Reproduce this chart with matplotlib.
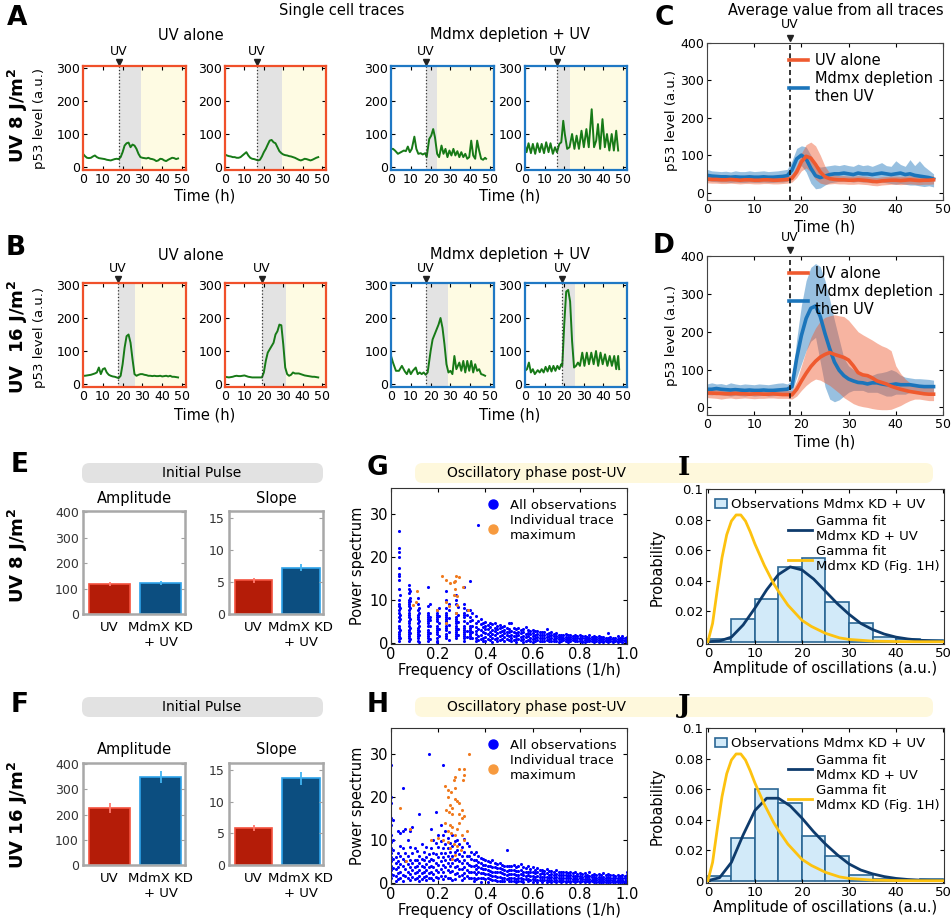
import numpy as np
import matplotlib.pyplot as plt
from matplotlib.patches import FancyBboxPatch, Patch
from matplotlib.lines import Line2D

plt.rcParams['font.family'] = 'DejaVu Sans'

# ---------------- data ----------------
# single cell traces: hourly p53 level (0..48 h) or (time, value) turning points
hours = list(range(49))
trace_a1 = [40, 33, 28, 27, 28, 32, 35, 30, 27, 26, 25, 24, 22, 21, 20, 22, 24, 25, 24, 30,
            45, 65, 72, 74, 60, 68, 65, 55, 40, 30, 28, 27, 26, 28, 25, 24, 22, 18, 20, 25,
            24, 20, 18, 22, 25, 28, 27, 24, 26]
trace_a2 = [38, 35, 33, 32, 30, 30, 28, 28, 30, 35, 40, 45, 35, 28, 25, 24, 22, 20, 22, 32,
            45, 55, 68, 80, 82, 75, 72, 60, 48, 42, 38, 36, 35, 33, 32, 30, 28, 25, 22, 20,
            22, 25, 24, 22, 20, 22, 25, 28, 30]
trace_a3_t = [0, 1, 2, 3.5, 5, 6.5, 7.5, 8.5, 9.5, 10.5, 11.8, 12.8, 13.8, 15, 16, 17.3, 18, 19.3,
              20.3, 21.3, 22.2, 23.3, 24.3, 25.5, 26.5, 27.5, 28.5, 29.5, 30.5, 31.5, 32.5, 33.5,
              34.5, 35.5, 36.5, 37.5, 38.5, 39.5, 40.5, 41.5, 42.5, 43.5, 44.5, 45.5, 46.5, 47.5, 48]
trace_a3 = [55, 55, 50, 40, 45, 50, 48, 62, 45, 55, 92, 55, 40, 42, 38, 42, 30, 85,
            95, 115, 90, 40, 30, 65, 40, 55, 30, 50, 35, 55, 35, 48,
            30, 45, 30, 40, 25, 30, 80, 35, 25, 80, 50, 25, 22, 28, 25]
trace_a4_t = [0, 0.8, 1.8, 3, 4, 5.2, 6.3, 7.5, 8.5, 9.7, 10.8, 12, 13, 14.2, 15.3, 16.3, 17.5,
              18.5, 19.5, 20.3, 21.5, 22.7, 24, 25.2, 26.3, 27.5, 28.8, 30, 31.3, 32.5, 34, 35.2,
              36.3, 37.2, 38.3, 39.5, 40.7, 41.8, 43, 44.2, 45.3, 46.5, 47.5]
trace_a4 = [65, 45, 72, 42, 70, 40, 72, 45, 70, 42, 75, 45, 72, 40, 60, 45, 70,
            75, 140, 100, 55, 60, 100, 55, 95, 55, 110, 60, 115, 60, 175, 60,
            80, 130, 55, 145, 60, 100, 50, 100, 50, 110, 50]
trace_b1 = [25, 25, 26, 27, 28, 30, 32, 35, 50, 30, 45, 48, 35, 28, 25, 23, 22, 20, 18, 25,
            60, 110, 145, 150, 125, 75, 30, 25, 28, 30, 30, 28, 27, 25, 25, 24, 25, 24, 24, 25,
            23, 24, 25, 23, 25, 22, 22, 21, 20]
trace_b2 = [22, 21, 20, 21, 22, 24, 25, 24, 24, 25, 26, 24, 22, 21, 20, 20, 20, 20, 20, 20,
            35, 70, 95, 105, 115, 125, 150, 160, 180, 178, 120, 50, 30, 25, 28, 35, 32, 32, 32, 30,
            28, 26, 25, 24, 23, 22, 22, 21, 20]
trace_b3_t = [0, 1, 2.5, 4, 5.5, 7, 8, 9, 10, 11, 12.5, 13.5, 14.5, 15.5, 16.5, 17.5, 18.5, 20,
              21, 22, 23, 24, 25, 26, 27, 28, 29, 30, 31, 32, 33, 34.5, 35.5, 36.5, 37.5, 38.5,
              39.5, 40.5, 41.5, 42.5, 43.5, 44.5, 45.5, 46.5, 47.5]
trace_b3 = [85, 65, 40, 40, 55, 38, 30, 45, 30, 40, 50, 30, 35, 30, 35, 28, 35, 100,
            135, 150, 165, 180, 200, 170, 120, 60, 35, 40, 30, 85, 45, 65, 40, 70, 35, 70,
            40, 70, 35, 60, 40, 45, 30, 28, 25]
trace_b4_t = [0, 1, 2, 3, 4, 5, 6.5, 7.5, 8.5, 9.5, 10.5, 11.5, 12.5, 13.5, 14.5, 15.5, 16.5,
              17.5, 18.5, 19, 20, 21, 22, 23, 24, 25, 26, 27, 28, 29.2, 30.3, 31.5, 32.6, 33.8,
              35, 36.2, 37.3, 38.5, 39.6, 40.8, 42, 43.2, 44.3, 45.5, 46.5, 47.5, 48]
trace_b4 = [40, 45, 65, 35, 45, 30, 42, 35, 45, 35, 52, 38, 55, 38, 55, 40, 55,
            45, 60, 55, 180, 280, 285, 250, 130, 50, 55, 65, 55, 95, 55, 95, 60, 95,
            60, 100, 55, 95, 60, 90, 55, 85, 55, 85, 45, 85, 45]
trace_uv = [18, 16.5, 17.5, 16.5, 17.5, 19, 17.5, 19]
trace_pulse_end = [29.3, 29.2, 23.4, 22.9, 26.1, 31.5, 28.8, 25.7]

# average traces (0..48 h)
c_uv_mean = [36, 35, 35, 34, 34, 35, 34, 33, 34, 34, 33, 33, 34, 34, 33, 33, 34, 35, 38, 55,
             82, 97, 92, 75, 55, 42, 37, 35, 34, 34, 33, 33, 34, 33, 32, 30, 29, 31, 32, 33,
             33, 32, 33, 34, 33, 32, 33, 33, 34]
c_uv_hi = [46, 45, 46, 44, 44, 45, 44, 43, 44, 45, 43, 44, 44, 45, 43, 44, 44, 45, 48, 70,
           105, 128, 135, 125, 100, 70, 52, 47, 45, 45, 44, 44, 45, 44, 43, 41, 40, 42, 43, 44,
           44, 43, 44, 45, 44, 43, 44, 44, 45]
c_uv_lo = [26, 25, 25, 24, 24, 25, 24, 23, 24, 24, 23, 23, 24, 24, 23, 23, 24, 25, 28, 40,
           58, 66, 55, 35, 25, 22, 23, 24, 23, 23, 22, 22, 23, 22, 21, 19, 18, 20, 21, 22,
           22, 21, 22, 23, 22, 21, 22, 22, 23]
c_kd_mean = [46, 44, 43, 42, 42, 41, 42, 41, 41, 42, 41, 41, 42, 41, 41, 42, 43, 45, 60, 90,
             100, 90, 65, 45, 40, 44, 48, 50, 50, 52, 50, 48, 52, 50, 50, 48, 50, 52, 50, 48,
             50, 52, 48, 50, 46, 44, 42, 40, 36]
c_kd_hi = [62, 58, 57, 56, 57, 55, 58, 56, 56, 58, 56, 57, 58, 56, 57, 58, 60, 62, 85, 118,
           125, 122, 100, 75, 68, 70, 72, 74, 72, 75, 72, 70, 76, 72, 74, 70, 75, 80, 72, 70,
           85, 75, 70, 88, 72, 85, 70, 60, 50]
c_kd_lo = [32, 30, 29, 28, 28, 27, 28, 27, 27, 28, 27, 27, 28, 27, 27, 28, 28, 30, 40, 62,
           72, 55, 25, 10, 12, 20, 26, 28, 30, 30, 30, 28, 30, 28, 28, 26, 28, 28, 26, 24,
           22, 24, 22, 20, 20, 18, 16, 18, 15]
d_uv_mean = [38, 38, 37, 37, 36, 36, 37, 36, 36, 35, 36, 36, 35, 35, 36, 35, 34, 34, 33, 48,
             70, 90, 108, 122, 133, 140, 145, 140, 136, 132, 125, 110, 92, 86, 84, 78, 70, 66, 62, 56,
             52, 48, 45, 42, 40, 38, 36, 35, 35]
d_uv_hi = [48, 50, 50, 49, 48, 50, 52, 50, 49, 48, 50, 49, 48, 48, 47, 46, 45, 45, 44, 70,
           110, 150, 185, 210, 228, 238, 242, 245, 242, 240, 230, 215, 200, 192, 185, 178, 170, 163, 158, 150,
           110, 90, 75, 65, 60, 56, 54, 53, 52]
d_uv_lo = [26, 25, 24, 22, 24, 25, 23, 24, 25, 24, 23, 24, 24, 25, 25, 24, 24, 24, 22, 30,
           45, 58, 68, 75, 72, 65, 58, 48, 38, 26, 18, 10, 5, 2, 0, -3, -5, -6, -6, -5,
           0, 5, 12, 18, 22, 22, 20, 18, 18]
d_kd_mean = [48, 48, 50, 48, 47, 46, 47, 46, 45, 46, 45, 45, 46, 45, 45, 46, 47, 48, 55, 130,
             190, 235, 262, 268, 240, 195, 155, 120, 98, 84, 75, 70, 66, 65, 62, 65, 65, 62, 60, 60,
             62, 60, 60, 60, 58, 56, 55, 55, 55]
d_kd_hi = [62, 65, 62, 63, 60, 65, 62, 60, 62, 61, 60, 62, 61, 60, 62, 64, 65, 62, 70, 180,
           270, 335, 370, 380, 372, 335, 285, 230, 180, 130, 110, 100, 92, 90, 85, 85, 90, 92, 95, 100,
           95, 85, 80, 78, 76, 76, 75, 74, 72]
d_kd_lo = [34, 33, 35, 33, 32, 30, 32, 31, 30, 32, 30, 31, 32, 30, 31, 32, 33, 34, 40, 80,
           115, 150, 175, 185, 120, 55, 22, 15, 20, 30, 40, 45, 45, 45, 40, 40, 40, 35, 30, 30,
           35, 35, 35, 40, 40, 40, 40, 40, 40]
uv_time_avg = 17.5

# initial pulse bars
bar_names = ['UV', 'MdmX KD\n+ UV']
amp_8, amp_8_err = [118, 122], [8, 7]
slope_8, slope_8_err = [5.3, 7.2], [0.4, 0.55]
amp_16, amp_16_err = [228, 350], [20, 25]
slope_16, slope_16_err = [5.8, 13.7], [0.5, 1.0]

# power spectra (frequency column -> power values)
g_freq = [0.035, 0.040, 0.075, 0.080, 0.115, 0.120, 0.155, 0.165, 0.195, 0.205, 0.235, 0.245,
          0.275, 0.285, 0.310, 0.320, 0.335, 0.345,
          0.36, 0.37, 0.38, 0.39, 0.40, 0.41, 0.42, 0.43, 0.44, 0.45, 0.46, 0.47, 0.48, 0.49,
          0.50, 0.51, 0.52, 0.53, 0.54, 0.55, 0.56, 0.57, 0.58, 0.59, 0.60, 0.61, 0.62, 0.63,
          0.64, 0.65, 0.66, 0.67, 0.68, 0.69, 0.70, 0.71, 0.72, 0.73, 0.74, 0.75, 0.76, 0.77,
          0.78, 0.79, 0.80, 0.81, 0.82, 0.83, 0.84, 0.85, 0.86, 0.87, 0.88, 0.89, 0.90, 0.91,
          0.92, 0.93, 0.94, 0.95, 0.96, 0.97, 0.98, 0.99, 1.00]
g_power = [
    [26, 22, 21, 20, 17.5, 16, 15.5, 14.5, 12.5, 10, 9, 8.5, 7.5, 7, 6, 5, 4, 3.5, 2.5, 2, 1.5, 1, 0.5],
    [11, 8, 6.5, 5.5, 3, 1.2],
    [13.5, 12.5, 11.5, 10, 9.5, 9, 8.5, 7.5, 7, 6.5, 6, 5, 4.5, 4, 3, 2.5, 2, 1.5, 1, 0.3],
    [12, 10.5, 9.8, 8, 5.5, 3.5, 2.2, 0.8],
    [10.5, 9, 7.5, 6.5, 6, 5.5, 4.5, 3.5, 3, 2.5, 2, 1.5, 1, 0.5],
    [8, 6.8, 5, 4, 2.8, 1.8, 0.2],
    [13, 8.5, 7, 6.5, 6, 5.5, 5, 4.5, 4, 3, 2.5, 2, 1.5, 1, 0.5],
    [9, 6, 5.2, 3.8, 2.2, 0.8],
    [7.5, 7, 6.5, 6, 5.5, 5, 4, 3.5, 3, 2.5, 2, 1, 0.5, 0.2],
    [8, 6.2, 4.5, 3.2, 1.5],
    [12, 10, 8, 7, 6.5, 6, 5.5, 5, 4.5, 4, 3.5, 3, 2, 1.5, 1],
    [9, 7.5, 5.8, 4.2, 2.5, 0.6],
    [11, 10, 9, 7, 6, 5.5, 5, 4.5, 4, 3.5, 3, 2.5, 2, 1.5, 1],
    [8.2, 6.5, 4.8, 3.2, 1.8],
    [13, 9, 8, 7, 6.5, 6, 5, 4, 3.5, 3, 2.5, 2, 1.5, 1, 0.5],
    [7.6, 6.4, 4.6, 2.8, 1.3],
    [14.3, 7.5, 6, 5, 4, 3.5, 3, 2.5, 2, 1.5, 1],
    [6.8, 5.2, 3.8, 2.4, 1.0],
    [6.2, 4.5, 3.6, 2.8, 2.0, 1.2, 0.4], [27.5, 5.0, 3.2, 1.6, 0.6], [5.5, 4.4, 3.0, 1.9, 0.9],
    [4.6, 3.6, 2.4, 1.2, 0.3], [4.8, 4.0, 3.1, 2.2, 1.4, 0.5], [4.2, 3.3, 2.0, 0.9],
    [4.6, 3.7, 2.6, 1.5, 0.6], [4.3, 3.0, 2.1, 1.1, 0.2], [4.6, 3.5, 2.8, 1.7, 0.8],
    [3.9, 3.1, 2.2, 1.2, 0.4], [4.2, 3.4, 2.5, 1.5, 0.6], [3.6, 2.7, 1.8, 0.9],
    [3.8, 3.0, 2.2, 1.3, 0.5], [3.4, 2.6, 1.7, 0.8], [4.5, 3.2, 2.4, 1.5, 0.6],
    [4.5, 2.8, 1.9, 1.0, 0.3], [3.4, 2.5, 1.6, 0.7], [3.1, 2.3, 1.5, 0.8, 0.2],
    [3.5, 2.6, 1.8, 0.9], [3.0, 2.2, 1.4, 0.6], [3.2, 2.4, 1.6, 0.8, 0.2],
    [3.6, 2.1, 1.3, 0.5], [3.0, 2.3, 1.5, 0.7], [2.8, 2.0, 1.2, 0.4],
    [3.0, 2.2, 1.5, 0.8, 0.2], [2.7, 1.9, 1.1, 0.5], [2.8, 2.0, 1.3, 0.6],
    [2.5, 1.8, 1.0, 0.3], [2.6, 1.9, 1.2, 0.5], [2.4, 1.7, 1.0, 0.4],
    [3.2, 2.0, 1.3, 0.6], [2.3, 1.6, 0.9, 0.3], [2.4, 1.7, 1.1, 0.5],
    [2.1, 1.5, 0.9, 0.3], [2.2, 1.6, 1.0, 0.4], [1.9, 1.4, 0.8, 0.2],
    [1.8, 1.3, 0.8, 0.3], [1.7, 1.2, 0.6], [2.0, 1.4, 0.9, 0.4],
    [1.7, 1.2, 0.7, 0.2], [1.9, 1.3, 0.8, 0.3], [1.6, 1.1, 0.6],
    [1.8, 1.2, 0.7, 0.3], [1.5, 1.0, 0.5], [1.7, 1.2, 0.8, 0.3],
    [1.5, 1.0, 0.5, 0.1], [1.6, 1.1, 0.6, 0.2], [1.4, 0.9, 0.5],
    [1.8, 1.1, 0.7, 0.3], [1.4, 0.9, 0.4], [1.5, 1.0, 0.6, 0.2],
    [1.3, 0.8, 0.4], [1.6, 1.0, 0.6, 0.2], [1.3, 0.8, 0.3],
    [1.4, 0.9, 0.5, 0.1], [1.2, 0.7, 0.3], [2.2, 1.0, 0.6, 0.2],
    [1.3, 0.8, 0.4], [1.2, 0.8, 0.4, 0.1], [1.1, 0.7, 0.3],
    [1.5, 0.9, 0.5, 0.2], [1.2, 0.7, 0.3], [1.6, 1.0, 0.6, 0.2],
    [1.1, 0.7, 0.3], [1.4, 0.9, 0.5, 0.2]]
g_max_f = [0.093, 0.104, 0.110, 0.194, 0.215, 0.231, 0.234, 0.234, 0.244, 0.248, 0.265, 0.265,
           0.272, 0.272, 0.276, 0.276, 0.279, 0.279, 0.289, 0.304, 0.325]
g_max_p = [8.7, 9.4, 12.1, 7.6, 15.5, 9.4, 14.7, 4.6, 8.5, 13.8, 14.1, 11.2,
           14.3, 12.6, 15.5, 7.0, 10.8, 8.7, 15.3, 12.9, 7.6]

h_freq = [0.00, 0.01, 0.02, 0.03, 0.04, 0.05, 0.06, 0.07, 0.08, 0.09, 0.10, 0.11, 0.12, 0.13,
          0.14, 0.15, 0.16, 0.17, 0.18, 0.19, 0.20, 0.21, 0.22, 0.23, 0.24, 0.25, 0.26, 0.27,
          0.28, 0.29, 0.30, 0.31, 0.32, 0.33, 0.34, 0.35, 0.36, 0.37, 0.38, 0.39, 0.40, 0.41,
          0.42, 0.43, 0.44, 0.45, 0.46, 0.47, 0.48, 0.49, 0.50, 0.51, 0.52, 0.53, 0.54, 0.55,
          0.56, 0.57, 0.58, 0.59, 0.60, 0.61, 0.62, 0.63, 0.64, 0.65, 0.66, 0.67, 0.68, 0.69,
          0.70, 0.71, 0.72, 0.73, 0.74, 0.75, 0.76, 0.77, 0.78, 0.79, 0.80, 0.81, 0.82, 0.83,
          0.84, 0.85, 0.86, 0.87, 0.88, 0.89, 0.90, 0.91, 0.92, 0.93, 0.94, 0.95, 0.96, 0.97,
          0.98, 0.99, 1.00]
h_power = [
    [27.5, 20.0, 18.5, 15.0, 13.5, 11.0, 9.5, 8.0, 7.0, 6.0, 5.0, 4.0, 3.0, 2.0, 1.0],
    [14.5, 10.0, 7.5, 5.5, 3.5, 1.8], [6.0, 4.5, 3.2, 1.5, 0.5], [12.0, 7.0, 5.0, 3.6, 2.2, 0.8],
    [11.5, 8.5, 6.2, 4.4, 2.6, 1.2], [22.0, 12.0, 8.0, 5.6, 3.8, 1.8, 0.4],
    [12.5, 6.8, 5.0, 3.2, 1.6], [10.0, 6.2, 4.4, 2.6, 1.0], [12.0, 8.2, 5.4, 3.6, 2.0, 0.6],
    [13.0, 6.8, 4.6, 3.0, 1.4], [8.0, 5.2, 3.6, 2.2, 0.8], [7.4, 5.4, 4.0, 2.6, 1.2],
    [16.0, 6.2, 4.6, 3.0, 1.6, 0.4], [9.0, 5.6, 3.8, 2.2, 0.8], [7.2, 5.2, 3.6, 2.4, 1.4],
    [8.2, 6.0, 4.4, 3.0, 1.6, 0.6], [30.0, 6.6, 5.0, 3.6, 2.2, 1.0],
    [12.5, 8.0, 5.6, 4.0, 2.6, 1.2], [10.0, 7.0, 5.2, 3.6, 2.0, 0.6],
    [16.5, 9.2, 6.6, 4.6, 3.0, 1.4], [11.0, 8.2, 6.0, 4.2, 2.6, 1.0],
    [13.5, 9.6, 7.0, 5.0, 3.2, 1.6], [27.5, 11.0, 8.0, 6.0, 4.2, 2.4, 0.8],
    [12.0, 9.0, 7.0, 5.2, 3.6, 1.6], [10.4, 8.0, 6.2, 4.6, 3.0, 1.2],
    [9.2, 7.2, 5.6, 4.0, 2.6, 1.0], [11.2, 8.6, 6.2, 4.6, 2.8, 0.6],
    [9.6, 7.2, 5.2, 3.6, 2.0, 0.8], [10.0, 7.6, 5.6, 3.8, 2.2], [9.0, 6.6, 5.0, 3.2, 1.6],
    [8.2, 6.2, 4.6, 3.2, 1.8, 0.6], [10.2, 7.2, 5.2, 3.6, 2.2, 1.0], [9.2, 6.2, 4.6, 3.0, 1.6],
    [8.6, 6.2, 4.2, 2.6, 1.2], [7.2, 5.6, 4.0, 2.6, 1.2], [6.6, 5.2, 3.8, 2.6, 1.2, 0.3],
    [7.2, 5.2, 4.2, 3.2, 2.0, 0.8], [6.2, 4.8, 3.6, 2.4, 1.2], [5.8, 4.6, 3.4, 2.2, 1.0, 0.2],
    [5.6, 4.2, 3.2, 2.2, 1.2], [5.2, 4.2, 3.2, 2.0, 0.8], [5.0, 4.0, 3.0, 2.0, 1.0, 0.2],
    [4.8, 3.8, 2.8, 1.8, 0.8], [5.2, 3.6, 2.6, 1.6, 0.6], [4.6, 3.6, 2.6, 1.6, 0.6],
    [4.4, 3.4, 2.4, 1.4, 0.5], [4.6, 3.4, 2.4, 1.4, 0.4], [4.2, 3.2, 2.2, 1.2, 0.4],
    [4.0, 3.0, 2.0, 1.2, 0.3], [7.6, 3.8, 2.8, 1.8, 0.9], [4.0, 3.0, 2.0, 1.0, 0.3],
    [3.8, 2.9, 2.0, 1.1, 0.4], [4.2, 3.0, 2.1, 1.2, 0.4], [3.6, 2.7, 1.8, 0.9, 0.2],
    [3.8, 2.8, 1.9, 1.0, 0.3], [4.4, 3.0, 2.0, 1.1, 0.4], [3.6, 2.6, 1.7, 0.8, 0.2],
    [3.4, 2.5, 1.6, 0.8], [3.8, 2.6, 1.7, 0.9, 0.3], [3.2, 2.4, 1.5, 0.7],
    [3.6, 2.5, 1.6, 0.8, 0.2], [3.0, 2.2, 1.4, 0.6], [3.4, 2.4, 1.5, 0.7, 0.2],
    [2.9, 2.1, 1.3, 0.6], [3.0, 2.2, 1.4, 0.7, 0.2], [2.8, 2.0, 1.3, 0.6],
    [3.2, 2.2, 1.4, 0.7, 0.2], [2.7, 1.9, 1.2, 0.5], [2.8, 2.0, 1.3, 0.6, 0.1],
    [2.6, 1.8, 1.1, 0.5], [2.9, 2.0, 1.3, 0.6, 0.2], [2.5, 1.8, 1.1, 0.5],
    [2.6, 1.9, 1.2, 0.6, 0.1], [2.4, 1.7, 1.0, 0.4], [2.5, 1.8, 1.1, 0.5, 0.1],
    [2.3, 1.6, 1.0, 0.4], [2.6, 1.7, 1.0, 0.5, 0.1], [2.2, 1.5, 0.9, 0.4],
    [2.5, 1.6, 1.0, 0.4, 0.1], [2.1, 1.5, 0.9, 0.3], [2.3, 1.6, 1.0, 0.4, 0.1],
    [2.0, 1.4, 0.8, 0.3], [2.2, 1.5, 0.9, 0.4, 0.1], [1.9, 1.3, 0.8, 0.3],
    [2.4, 1.5, 0.9, 0.4, 0.1], [1.9, 1.3, 0.7, 0.3], [2.1, 1.4, 0.8, 0.3, 0.1],
    [1.8, 1.2, 0.7, 0.2], [2.0, 1.3, 0.8, 0.3, 0.1], [1.8, 1.2, 0.6, 0.2],
    [2.2, 1.4, 0.8, 0.3, 0.1], [1.7, 1.1, 0.6, 0.2], [2.0, 1.3, 0.7, 0.3, 0.1],
    [1.7, 1.1, 0.6, 0.2], [1.9, 1.2, 0.7, 0.3, 0.1], [1.6, 1.0, 0.5, 0.2],
    [1.8, 1.2, 0.7, 0.3, 0.1], [1.6, 1.0, 0.5, 0.2], [1.9, 1.2, 0.7, 0.3, 0.1],
    [1.5, 1.0, 0.5, 0.2], [2.6, 1.8, 1.2, 0.6, 0.2]]
h_max_f = [0.04, 0.08, 0.065, 0.17, 0.33, 0.29, 0.31, 0.31, 0.305, 0.27, 0.265, 0.23, 0.24, 0.27,
           0.255, 0.24, 0.27, 0.28, 0.29, 0.25, 0.26, 0.235, 0.245, 0.26, 0.29, 0.30, 0.31, 0.23,
           0.25, 0.26, 0.28, 0.24, 0.255, 0.27, 0.30, 0.31, 0.22, 0.24, 0.265, 0.28, 0.25, 0.295,
           0.27, 0.26, 0.29, 0.30, 0.32, 0.20]
h_max_p = [17.5, 12.5, 5, 10, 30, 26.5, 26.5, 25, 24, 24.5, 24, 22.5, 21.5, 22,
           21, 20, 19.5, 19, 18.5, 18, 17.5, 17, 16.5, 16, 16, 15, 15.5, 14,
           13.5, 13, 12.5, 12, 11.5, 11, 11, 10, 10, 9.5, 9, 8.5, 8, 7.5,
           6.5, 5.5, 14, 17, 12, 10.5]

# amplitude histograms and gamma fits
hist_left = [0, 5, 10, 15, 20, 25, 30, 35, 40, 45]
hist_8 = [0.002, 0.015, 0.028, 0.049, 0.055, 0.026, 0.012, 0.003, 0.0015, 0.0008]
hist_16 = [0.003, 0.028, 0.060, 0.051, 0.029, 0.016, 0.004, 0.001, 0.0005, 0.001]
fit_x = [0, 2.5, 5, 7.5, 10, 12.5, 15, 17.5, 20, 22.5, 25, 27.5, 30, 32.5, 35, 37.5, 40, 42.5, 45, 47.5, 50]
fit_8 = [0, 0.0005, 0.003, 0.011, 0.022, 0.034, 0.044, 0.049, 0.047, 0.041, 0.033, 0.025, 0.018,
         0.012, 0.008, 0.005, 0.003, 0.0018, 0.001, 0.0005, 0.0002]
fit_16 = [0, 0.002, 0.012, 0.030, 0.046, 0.054, 0.054, 0.049, 0.041, 0.032, 0.024, 0.017, 0.011,
          0.007, 0.0045, 0.0027, 0.0015, 0.0008, 0.0004, 0.0002, 0.0001]
ref_x = [0, 1, 2, 3, 4, 5, 6, 7, 8, 9, 10, 11, 12, 13, 14, 15, 17, 20, 22, 25, 28, 30, 35, 40, 45, 50]
ref_fit = [0, 0.012, 0.034, 0.055, 0.070, 0.079, 0.083, 0.083, 0.079, 0.072, 0.064, 0.057, 0.050,
           0.044, 0.038, 0.033, 0.024, 0.014, 0.010, 0.0055, 0.0025, 0.0015, 0.0004, 0.0001, 0, 0]

# ---------------- layout helpers ----------------
W, H = 953, 921
fig = plt.figure(figsize=(W / 100, H / 100), dpi=100)


def add_ax(l, t, r, b):
    return fig.add_axes([l / W, 1 - b / H, (r - l) / W, (b - t) / H])


def ftext(x, y, s, **kw):
    kw.setdefault('ha', 'center')
    kw.setdefault('va', 'center')
    return fig.text(x / W, 1 - y / H, s, **kw)


def header(l, t, r, b, color):
    fig.patches.append(FancyBboxPatch((l / W, 1 - b / H), (r - l) / W, (b - t) / H,
                                      boxstyle='round,pad=0,rounding_size=0.008',
                                      transform=fig.transFigure, facecolor=color,
                                      edgecolor='none', zorder=0))


def box_ticks(ax, size=9):
    ax.tick_params(direction='in', length=3, top=True, right=True, labelsize=size, pad=2)


def uv_mark(ax, x, fs=9):
    tr = ax.get_xaxis_transform()
    ax.plot([x], [1.035], marker='v', color='#222222', ms=5, transform=tr, clip_on=False)
    ax.text(x, 1.075, 'UV', transform=tr, ha='center', va='bottom', fontsize=fs)


RED, BLUE = '#EF5A2F', '#1B75BB'

# ---------------- A / B: single cell traces ----------------
traces = [(hours, trace_a1), (hours, trace_a2), (trace_a3_t, trace_a3), (trace_a4_t, trace_a4),
          (hours, trace_b1), (hours, trace_b2), (trace_b3_t, trace_b3), (trace_b4_t, trace_b4)]
trace_cols = [(83, 186), (225, 326), (391, 494), (525, 627)]
trace_rows = [(66, 170), (283, 387)]
for i, (tt, vals) in enumerate(traces):
    row, col = divmod(i, 4)
    l, r = trace_cols[col]
    t, b = trace_rows[row]
    ax = add_ax(l, t, r, b)
    uv, pend = trace_uv[i], trace_pulse_end[i]
    ax.axvspan(uv, pend, color='#E3E3E3', lw=0)
    ax.axvspan(pend, 60, color='#FEFBE3', lw=0)
    ax.plot(tt, vals, color='#177A17', lw=1.4)
    ax.axvline(uv, color='#333333', ls=':', lw=0.9)
    ax.set_xlim(0, 52)
    ax.set_ylim(-9, 306)
    ax.set_xticks([0, 10, 20, 30, 40, 50])
    ax.set_yticks([0, 100, 200, 300])
    box_ticks(ax)
    spc = '#F0502A' if col < 2 else '#1F78C4'
    for s in ax.spines.values():
        s.set_color(spc)
        s.set_linewidth(1.6)
    uv_mark(ax, uv)

ftext(342, 11, 'Single cell traces', fontsize=10.5)
for y in (35, 255):
    ftext(191, y, 'UV alone', fontsize=10.5)
    ftext(510, y, 'Mdmx depletion + UV', fontsize=10.5)
for y in (196, 415):
    ftext(205, y, 'Time (h)', fontsize=10.5)
    ftext(510, y, 'Time (h)', fontsize=10.5)
ftext(40, 118, 'p53 level (a.u.)', rotation=90, fontsize=9.5)
ftext(40, 337, 'p53 level (a.u.)', rotation=90, fontsize=9.5)
ftext(18, 115, r'UV 8 J/m$^\mathbf{2}$', rotation=90, fontsize=13, fontweight='bold')
ftext(18, 337, r'UV  16 J/m$^\mathbf{2}$', rotation=90, fontsize=13, fontweight='bold')

# ---------------- C / D: averages ----------------
avg_sets = [(c_uv_mean, c_uv_lo, c_uv_hi, c_kd_mean, c_kd_lo, c_kd_hi, (43, 200)),
            (d_uv_mean, d_uv_lo, d_uv_hi, d_kd_mean, d_kd_lo, d_kd_hi, (256, 415))]
for um, ul, uh, km, kl, kh, (t, b) in avg_sets:
    ax = add_ax(707, t, 943, b)
    ax.fill_between(hours, kl, kh, color=BLUE, alpha=0.45, lw=0)
    ax.plot(hours, km, color=BLUE, lw=2.6, label='Mdmx depletion\nthen UV')
    ax.fill_between(hours, ul, uh, color=RED, alpha=0.45, lw=0)
    ax.plot(hours, um, color=RED, lw=2.6, label='UV alone')
    ax.axvline(uv_time_avg, color='#111111', ls=(0, (3, 2)), lw=1.2)
    ax.set_xlim(0, 50)
    ax.set_ylim(-20, 400)
    ax.set_xticks([0, 10, 20, 30, 40, 50])
    ax.set_yticks([0, 100, 200, 300, 400])
    box_ticks(ax)
    for s in ax.spines.values():
        s.set_color('#444444')
        s.set_linewidth(0.8)
    h, lab = ax.get_legend_handles_labels()
    ax.legend(h[::-1], lab[::-1], loc='upper right', frameon=False, fontsize=10.5,
              handlelength=1.3, handletextpad=0.5, labelspacing=0.2, borderaxespad=0.3)
    ax.set_xlabel('Time (h)', fontsize=10.5, labelpad=3)
    uv_mark(ax, uv_time_avg)

ftext(836, 11, 'Average value from all traces', fontsize=10.5)
ftext(672, 120, 'p53 level (a.u.)', rotation=90, fontsize=9.5)
ftext(672, 336, 'p53 level (a.u.)', rotation=90, fontsize=9.5)

# ---------------- E / F: initial pulse bars ----------------
bar_sets = [(amp_8, amp_8_err, slope_8, slope_8_err, (511, 614), 473, 498),
            (amp_16, amp_16_err, slope_16, slope_16_err, (763, 865), 707, 749)]
for amp, amp_e, slp, slp_e, (t, b), hy, ty in bar_sets:
    header(82, hy - 10, 323, hy + 10, '#E2E2E2')
    ftext(202, hy, 'Initial Pulse', fontsize=10)
    for (l, r), vals, errs, ylim, yt, title in [((83, 185), amp, amp_e, 405, [0, 100, 200, 300, 400], 'Amplitude'),
                                                 ((229, 323), slp, slp_e, 16.1, [0, 5, 10, 15], 'Slope')]:
        ax = add_ax(l, t, r, b)
        ax.bar([1, 2], vals, width=0.8, color=['#B41C08', '#0C4E80'],
               edgecolor=['#F4523E', '#2EA3EA'], lw=1.2)
        for xi, v, e, ec in zip([1, 2], vals, errs, ['#FF7A6E', '#42B4F2']):
            ax.errorbar(xi, v, yerr=e, color=ec, lw=1.3, capsize=0)
        ax.set_xlim(0.48, 2.47)
        ax.set_ylim(0, ylim)
        ax.set_yticks(yt)
        ax.set_xticks([1, 2])
        ax.set_xticklabels(bar_names, fontsize=9.5)
        ax.tick_params(axis='y', direction='in', length=3, right=True, labelsize=9,
                       color='#A0A0A0', labelcolor='#333333', pad=3)
        ax.tick_params(axis='x', length=0, pad=5)
        for s in ax.spines.values():
            s.set_color('#A8A8A8')
            s.set_linewidth(1.8)
        ftext((l + r) / 2, ty, title, fontsize=10.5)

ftext(18, 555, r'UV 8 J/m$^\mathbf{2}$', rotation=90, fontsize=13, fontweight='bold')
ftext(18, 815, r'UV 16 J/m$^\mathbf{2}$', rotation=90, fontsize=13, fontweight='bold')

# ---------------- G / H: power spectra ----------------
scatter_sets = [(g_freq, g_power, g_max_f, g_max_p, (488, 644), 473),
                (h_freq, h_power, h_max_f, h_max_p, (728, 884), 707)]
for fq, pw, mf, mp, (t, b), hy in scatter_sets:
    header(415, hy - 10, 933, hy + 10, '#FEF8DC')
    ftext(537, hy, 'Oscillatory phase post-UV', fontsize=10)
    ax = add_ax(391, t, 627, b)
    fx = np.concatenate([[f] * len(p) for f, p in zip(fq, pw)])
    fy = np.concatenate(pw)
    ax.scatter(fx, fy, s=5, color='#0000FF', lw=0, zorder=2)
    ax.scatter(mf, mp, s=5, color='#F07A1E', lw=0, zorder=3)
    ax.set_xlim(0, 1.0)
    ax.set_ylim(-0.3, 36)
    ax.set_xticks([0, 0.2, 0.4, 0.6, 0.8, 1.0])
    ax.set_xticklabels(['0', '0.2', '0.4', '0.6', '0.8', '1.0'])
    ax.set_yticks([0, 10, 20, 30])
    box_ticks(ax, 10.5)
    for s in ax.spines.values():
        s.set_color('#333333')
        s.set_linewidth(0.8)
    ax.set_xlabel('Frequency of Oscillations (1/h)', fontsize=10.5, labelpad=1)
    ax.set_ylabel('Power spectrum', fontsize=10.5, labelpad=3)
    handles = [Line2D([], [], marker='o', ls='none', ms=6.5, color='#0000FF'),
               Line2D([], [], marker='o', ls='none', ms=6.5, color='#F79A3E')]
    ax.legend(handles, ['All observations', 'Individual trace\nmaximum'], loc='upper right',
              frameon=False, fontsize=9.5, handletextpad=0.3, labelspacing=0.2,
              borderaxespad=0.4)

# ---------------- I / J: amplitude distributions ----------------
hist_sets = [(hist_8, fit_8, (489, 644)), (hist_16, fit_16, (728, 883))]
for hv, fv, (t, b) in hist_sets:
    ax = add_ax(706, t, 944, b)
    ax.bar(hist_left, hv, width=5, align='edge', color='#D2EAF9', edgecolor='#2B6795', lw=1.2)
    ax.plot(fit_x, fv, color='#0E3B6C', lw=2)
    ax.plot(ref_x, ref_fit, color='#FDC20F', lw=2)
    ax.set_xlim(-0.4, 50.2)
    ax.set_ylim(-0.0015, 0.1)
    ax.set_xticks([0, 10, 20, 30, 40, 50])
    ax.set_yticks([0, 0.02, 0.04, 0.06, 0.08, 0.1])
    ax.set_yticklabels(['0', '0.02', '0.04', '0.06', '0.08', '0.1'])
    box_ticks(ax, 9.5)
    for s in ax.spines.values():
        s.set_color('#333333')
        s.set_linewidth(0.8)
    ax.set_xlabel('Amplitude of oscillations (a.u.)', fontsize=10.5, labelpad=1)
    leg1 = ax.legend([Patch(facecolor='#D2EAF9', edgecolor='#2B6795', lw=1.2)],
                     ['Observations Mdmx KD + UV'], loc='upper right', bbox_to_anchor=(0.96, 1.0),
                     frameon=False, fontsize=9.5, handlelength=0.9, handleheight=0.7,
                     handletextpad=0.3, borderaxespad=0.3)
    ax.add_artist(leg1)
    ax.legend([Line2D([], [], color='#0E3B6C', lw=2), Line2D([], [], color='#FDC20F', lw=2)],
              ['Gamma fit\nMdmx KD + UV', 'Gamma fit\nMdmx KD (Fig. 1H)'], loc='upper right',
              bbox_to_anchor=(1.02, 0.89), frameon=False, fontsize=9.5, handlelength=1.8,
              handletextpad=0.3, labelspacing=0.15, borderaxespad=0.3)

ftext(657, 567, 'Probability', rotation=90, fontsize=10.5)
ftext(657, 806, 'Probability', rotation=90, fontsize=10.5)

# ---------------- panel letters ----------------
for s, x, y, fam in [('A', 17, 18, 'DejaVu Sans'), ('B', 16, 248, 'DejaVu Sans'),
                     ('C', 664, 18, 'DejaVu Sans'), ('D', 664, 246, 'DejaVu Sans'),
                     ('E', 20, 465, 'DejaVu Sans'), ('F', 20, 705, 'DejaVu Sans'),
                     ('G', 378, 468, 'DejaVu Sans'), ('H', 378, 705, 'DejaVu Sans'),
                     ('I', 684, 467, 'DejaVu Serif'), ('J', 684, 705, 'DejaVu Serif')]:
    ftext(x, y, s, fontsize=19, fontweight='bold', family=fam)

fig.savefig('out.png', dpi=100)
